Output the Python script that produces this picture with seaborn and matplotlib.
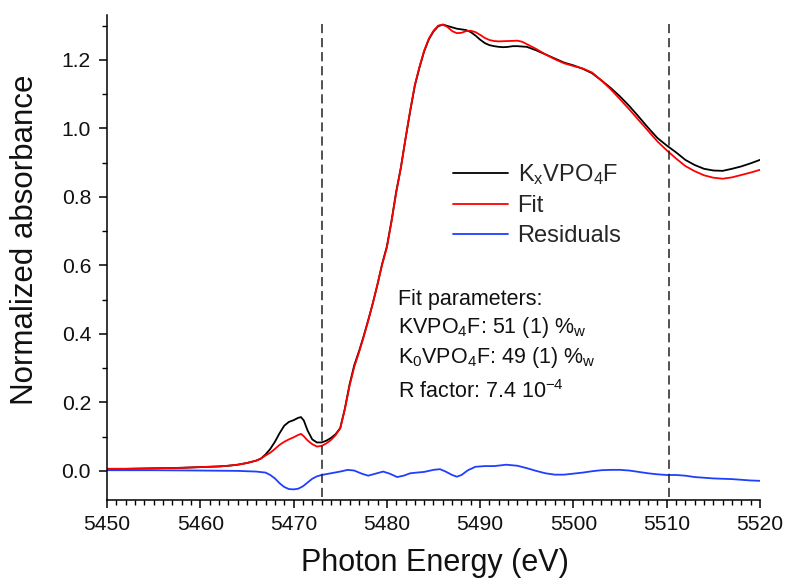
import matplotlib
matplotlib.use("Agg")
import matplotlib.pyplot as plt
import seaborn as sns
import pandas as pd
from matplotlib.ticker import MultipleLocator, FormatStrFormatter

# ---- data ----
energy_data = [5450, 5452, 5454, 5456, 5458, 5460, 5462, 5463, 5464, 5465, 5466, 5466.5,
               5467, 5467.5, 5468, 5468.5, 5469, 5469.5, 5470, 5470.5, 5470.8, 5471.1, 5471.5,
               5472, 5472.5, 5473, 5473.5, 5474, 5474.5, 5475, 5475.5, 5476, 5476.5, 5477,
               5477.5, 5478, 5478.5, 5479, 5479.5, 5480, 5480.5, 5481, 5481.5, 5482, 5482.5,
               5483, 5483.5, 5484, 5484.5, 5485, 5485.5, 5486, 5486.5, 5487, 5487.5, 5488,
               5488.5, 5489, 5489.5, 5490, 5490.5, 5491, 5491.5, 5492, 5492.5, 5493, 5493.5,
               5494, 5495, 5496, 5497, 5498, 5499, 5500, 5501, 5502, 5503, 5504, 5505, 5506,
               5507, 5508, 5509, 5510, 5511, 5512, 5513, 5514, 5515, 5516, 5517, 5518, 5519, 5520]
absorb_data = [0.006, 0.006, 0.007, 0.008, 0.009, 0.011, 0.013, 0.015, 0.018, 0.023, 0.030, 0.036,
               0.048, 0.064, 0.085, 0.110, 0.132, 0.143, 0.148, 0.155, 0.157, 0.147, 0.118,
               0.092, 0.083, 0.083, 0.088, 0.096, 0.107, 0.125, 0.182, 0.252, 0.308, 0.348,
               0.392, 0.440, 0.490, 0.545, 0.605, 0.655, 0.730, 0.815, 0.885, 0.970, 1.050,
               1.125, 1.178, 1.225, 1.260, 1.283, 1.298, 1.303, 1.299, 1.295, 1.291, 1.289,
               1.287, 1.281, 1.271, 1.259, 1.249, 1.243, 1.240, 1.238, 1.237, 1.238, 1.240,
               1.240, 1.238, 1.228, 1.216, 1.204, 1.192, 1.184, 1.174, 1.161, 1.140, 1.118,
               1.093, 1.065, 1.034, 1.002, 0.972, 0.950, 0.930, 0.908, 0.893, 0.882, 0.877,
               0.876, 0.882, 0.889, 0.898, 0.908]

energy_fit = [5450, 5452, 5454, 5456, 5458, 5460, 5462, 5463, 5464, 5465, 5466, 5466.5,
              5467, 5467.5, 5468, 5468.5, 5469, 5469.5, 5470, 5470.5, 5470.8, 5471.1, 5471.5,
              5472, 5472.5, 5473, 5473.5, 5474, 5474.5, 5475, 5475.5, 5476, 5476.5, 5477,
              5477.5, 5478, 5478.5, 5479, 5479.5, 5480, 5480.5, 5481, 5481.5, 5482, 5482.5,
              5483, 5483.5, 5484, 5484.5, 5485, 5485.5, 5486, 5486.5, 5487, 5487.5, 5488,
              5488.5, 5489, 5489.5, 5490, 5490.5, 5491, 5491.5, 5492, 5493, 5494, 5494.5,
              5495, 5496, 5497, 5498, 5499, 5500, 5501, 5502, 5503, 5504, 5505, 5506,
              5507, 5508, 5509, 5510, 5511, 5512, 5513, 5514, 5515, 5516, 5517, 5518, 5519, 5520]
absorb_fit = [0.006, 0.006, 0.007, 0.008, 0.009, 0.011, 0.013, 0.015, 0.018, 0.023, 0.030, 0.036,
              0.045, 0.053, 0.064, 0.076, 0.085, 0.092, 0.098, 0.105, 0.108, 0.101, 0.089,
              0.078, 0.071, 0.073, 0.080, 0.090, 0.104, 0.124, 0.180, 0.248, 0.303, 0.345,
              0.390, 0.438, 0.490, 0.545, 0.603, 0.652, 0.728, 0.812, 0.885, 0.970, 1.052,
              1.127, 1.180, 1.227, 1.262, 1.285, 1.300, 1.303, 1.296, 1.284, 1.278, 1.279,
              1.284, 1.285, 1.281, 1.273, 1.264, 1.258, 1.255, 1.254, 1.255, 1.256, 1.253,
              1.246, 1.232, 1.216, 1.202, 1.190, 1.182, 1.175, 1.163, 1.140, 1.114, 1.085,
              1.055, 1.024, 0.993, 0.962, 0.936, 0.912, 0.890, 0.875, 0.863, 0.856, 0.853,
              0.857, 0.864, 0.871, 0.879]

energy_res = [5450, 5455, 5460, 5464, 5466, 5467, 5467.5, 5468, 5468.5, 5469, 5469.5, 5470,
              5470.5, 5471, 5471.5, 5472, 5472.5, 5473, 5474, 5475, 5475.8, 5476.5, 5477.3,
              5478, 5478.8, 5479.6, 5480.3, 5481.1, 5481.8, 5482.5, 5483.2, 5484, 5485, 5485.7,
              5486.3, 5487, 5487.5, 5488, 5488.7, 5489.5, 5490.5, 5491.5, 5492.8, 5494, 5495,
              5496, 5497, 5498, 5499, 5500, 5501, 5502, 5503, 5504, 5505, 5506, 5507, 5508,
              5509, 5510, 5511, 5512, 5513, 5514, 5515, 5516, 5517, 5518, 5519, 5520]
residuals = [0.002, 0.002, 0.001, 0.000, -0.002, -0.005, -0.012, -0.022, -0.036, -0.047, -0.053,
             -0.054, -0.052, -0.045, -0.034, -0.023, -0.016, -0.012, -0.007, -0.002, 0.003, 0.001,
             -0.008, -0.014, -0.008, -0.002, -0.008, -0.018, -0.014, -0.007, -0.005, -0.003, 0.003,
             0.005, -0.002, -0.012, -0.017, -0.012, 0.002, 0.012, 0.014, 0.014, 0.018, 0.015, 0.008,
             0.000, -0.007, -0.011, -0.011, -0.008, -0.005, -0.001, 0.002, 0.003, 0.003, 0.001,
             -0.003, -0.007, -0.010, -0.012, -0.012, -0.014, -0.018, -0.020, -0.022, -0.023,
             -0.024, -0.026, -0.028, -0.029]

dashed_lines = [5473.0, 5510.2]
series_labels = [r"K$_\mathregular{x}$VPO$_\mathregular{4}$F", "Fit", "Residuals"]
annot_lines = ["Fit parameters:",
               r"KVPO$_\mathregular{4}$F: 51 (1) %$_\mathregular{w}$",
               r"K$_\mathregular{0}$VPO$_\mathregular{4}$F: 49 (1) %$_\mathregular{w}$",
               r"R factor: 7.4 10$^\mathregular{-4}$"]

# ---- style ----
sns.set_style("ticks")
plt.rcParams['font.family'] = ['Liberation Sans', 'DejaVu Sans']
plt.rcParams['mathtext.fontset'] = 'custom'
plt.rcParams['mathtext.rm'] = 'Liberation Sans'
plt.rcParams['mathtext.it'] = 'Liberation Sans:italic'
plt.rcParams['mathtext.bf'] = 'Liberation Sans:bold'

fig = plt.figure(figsize=(7.9, 5.87), dpi=100)
ax = fig.add_axes([107/790, 1 - 500/587, 653/790, 485/587])

df_data = pd.DataFrame({"E": energy_data, "A": absorb_data})
df_fit = pd.DataFrame({"E": energy_fit, "A": absorb_fit})
df_res = pd.DataFrame({"E": energy_res, "A": residuals})

sns.lineplot(data=df_data, x="E", y="A", ax=ax, color="black", lw=1.3, label=series_labels[0])
sns.lineplot(data=df_fit, x="E", y="A", ax=ax, color="#ff0000", lw=1.3, label=series_labels[1])
sns.lineplot(data=df_res, x="E", y="A", ax=ax, color="#1f3fff", lw=1.3, label=series_labels[2])

ylo, yhi = -0.085, 1.331
for xv in dashed_lines:
    ax.axvline(xv, ymin=(-0.076 - ylo) / (yhi - ylo), ymax=(1.317 - ylo) / (yhi - ylo),
               color="#222222", lw=1.1, dashes=(6, 3.2))

ax.set_xlim(5450, 5520)
ax.set_ylim(ylo, yhi)
ax.xaxis.set_major_locator(MultipleLocator(10))
ax.xaxis.set_minor_locator(MultipleLocator(1))
ax.yaxis.set_major_locator(MultipleLocator(0.2))
ax.yaxis.set_minor_locator(MultipleLocator(0.1))
ax.yaxis.set_major_formatter(FormatStrFormatter('%.1f'))
ax.tick_params(which="major", direction="out", length=6, width=1.1, labelsize=15.2,
               color="black", labelcolor="#111111")
ax.tick_params(axis="x", which="major", pad=5)
ax.tick_params(axis="y", which="major", pad=5.5)
ax.tick_params(which="minor", direction="out", length=3.6, width=1.0, color="black")
for s in ["left", "bottom"]:
    ax.spines[s].set_linewidth(1.1)
    ax.spines[s].set_color("black")
sns.despine(ax=ax)

ax.set_xlabel("Photon Energy (eV)", fontsize=22, color="#111111")
ax.set_ylabel("Normalized absorbance", fontsize=22.5, color="#111111")
ax.xaxis.set_label_coords(0.502, -0.098)
ax.yaxis.set_label_coords(-0.103, 0.536)

leg = ax.legend(loc="upper left", bbox_to_anchor=(0.530, 0.696), frameon=False, fontsize=17,
                handlelength=2.33, handletextpad=0.4, borderpad=0, borderaxespad=0,
                labelspacing=0.33)

ys = [0.402, 0.345, 0.282, 0.210]
for t, yv in zip(annot_lines, ys):
    ax.text(0.4456, yv, t, transform=ax.transAxes, fontsize=15.5, va="baseline", ha="left",
            color="#111111")

fig.savefig("out.png", dpi=100)
